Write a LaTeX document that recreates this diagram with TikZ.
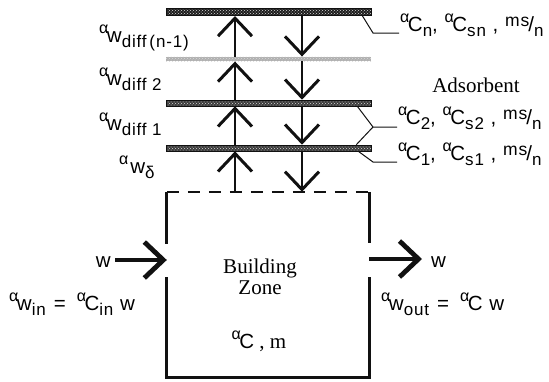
\documentclass[tikz,border=0pt]{standalone}
\usepackage{fontspec}
\setmainfont{Liberation Serif}
\setsansfont[LetterSpace=5]{Liberation Sans}
\usetikzlibrary{arrows.meta,calc,positioning,patterns}
\definecolor{Ink}{HTML}{111111}
\definecolor{BarDark}{HTML}{1E1E1E}
\definecolor{BarMid}{HTML}{3C3C3C}
\definecolor{BarLight}{HTML}{B0B0B0}
\newcommand{\al}{\raisebox{8.5pt}{\fontsize{16}{16}\selectfont α}\kern-1.5pt}
\newcommand{\lo}[1]{\raisebox{-5pt}{\fontsize{17}{17}\selectfont #1}}
\newcommand{\hi}[1]{\raisebox{5pt}{\fontsize{17.5}{17.5}\selectfont #1}}
\tikzset{
  layer/.style={
    minimum width=205pt, minimum height=6pt, inner sep=0pt,
    preaction={fill=#1}, pattern=crosshatch dots, pattern color=white!70!gray
  },
  lab/.style={font=\sffamily\fontsize{20.5}{21}\selectfont, inner sep=1pt},
  serif/.style={font=\rmfamily\fontsize{21}{24}\selectfont, inner sep=1pt},
  vflow/.style={line width=1.5pt, draw=Ink,
    -{Straight Barb[length=18pt,width=34pt,line width=3pt]}},
  wflow/.style={line width=4pt, draw=Ink,
    -{Straight Barb[length=19pt,width=36pt,line width=4.8pt]}},
  wall/.style={line width=3.2pt, draw=Ink},
  lead/.style={line width=1pt, draw=Ink}
}
\begin{document}
\begin{tikzpicture}[x=1pt,y=-1pt]
    \useasboundingbox (0,0) rectangle (549,381);
    \node[layer=BarDark,minimum height=7pt,draw=Ink,line width=1pt] (bn) at (268.5,12) {};
    \node[layer=BarLight,minimum height=4.5pt] (bd) at (268.5,59) {};
    \node[layer=BarMid,draw=Ink,line width=.6pt] (b2) at (268.5,103) {};
    \node[layer=BarMid,draw=Ink,line width=.6pt] (b1) at (268.5,148) {};
    \node[minimum width=202pt,minimum height=185pt,inner sep=0pt] (zone) at (268,284.5) {};
    \coordinate (ux) at (235,0);
    \coordinate (dx) at (302,0);
    \foreach \p/\q in {zone/b1,b1/b2,b2/bd,bd/bn} {
      \draw[vflow] (ux |- \p.north) -- (ux |- \q.south);
      \draw[vflow] (dx |- \q.south) -- (dx |- \p.north);
    }
    \draw[line width=1.6pt,draw=Ink,dash pattern=on 12pt off 9pt] (zone.north west) -- (zone.north east);
    \draw[wall] (zone.north west) -- ++(0,52);
    \draw[wall] ($(zone.south west)+(0,-100)$) -- (zone.south west) -- (zone.south east) -- ++(0,-100);
    \draw[wall] (zone.north east) -- ++(0,51);
    \node[lab,anchor=base west] (wdn) at (98,42) {\al w\lo{diff\,(n-1)}};
    \node[lab,anchor=base west] (wd2) at (98,85) {\al w\lo{diff 2}};
    \node[lab,anchor=base west] (wd1) at (98,130) {\al w\lo{diff 1}};
    \node[lab,anchor=base west] (wdl) at (118,173) {\al\,w\lo{δ}};
    \node[lab,anchor=base west] (cn) at (399,31) {\al C\lo{n}, \al C\lo{sn} , \hi{ms}\kern-1pt/\lo{n}};
    \node[lab,anchor=base west] (c2) at (397,124) {\al C\lo{2}, \al C\lo{s2} , \hi{ms}\kern-1pt/\lo{n}};
    \node[lab,anchor=base west] (c1) at (397,160) {\al C\lo{1}, \al C\lo{s1} , \hi{ms}\kern-1pt/\lo{n}};
    \node[serif] (ads) at (476,85) {Adsorbent};
    \coordinate (kn) at (373,33);
    \coordinate (k2) at (373,127);
    \coordinate (k1) at (373,162);
    \draw[lead] ([xshift=-9pt]bn.south east) -- (kn) -- (cn.west |- kn);
    \draw[lead] ([xshift=-14pt]b2.south east) -- (k2) -- (c2.west |- k2);
    \draw[lead] ([xshift=-15pt]b1.north east) -- (k2);
    \draw[lead] ([xshift=-13pt]b1.south east) -- (k1) -- (c1.west |- k1);
    \coordinate (win) at (115,260);
    \coordinate (wout) at (422,259);
    \draw[wflow] (win) -- (win -| zone.west);
    \draw[wflow] (zone.east |- wout) -- (wout);
    \node[lab,anchor=base east] (wi) at (112,267) {w};
    \node[lab,anchor=base west] (wo) at (430,267) {w};
    \node[lab,anchor=base west] (eqin) at (8,310) {\al w\lo{in}\hspace{8pt}=\hspace{11pt}\al C\lo{in} w};
    \node[lab,anchor=base west] (eqout) at (380,310) {\al w\lo{out}\hspace{8pt}=\hspace{11pt}\al C w};
    \node[serif,align=center,anchor=base] (zt) at (260,294) {Building\\[-3pt]Zone};
    \node[serif,anchor=base] (zv) at (259,348) {{\sffamily\fontsize{20.5}{21}\selectfont\al C} , m};
  \end{tikzpicture}
\end{document}
